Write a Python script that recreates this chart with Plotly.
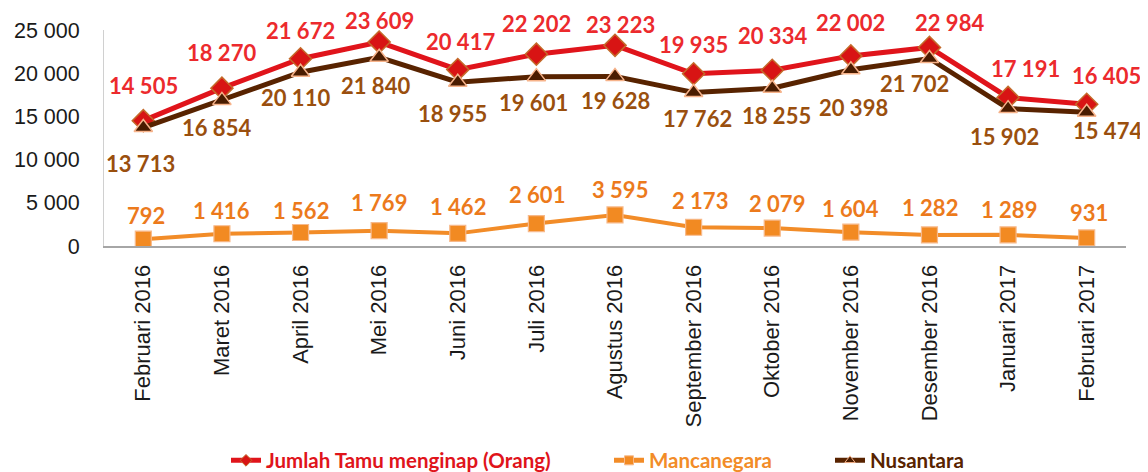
import plotly.graph_objects as go

months = ["Februari 2016", "Maret 2016", "April 2016", "Mei 2016", "Juni 2016", "Juli 2016",
          "Agustus 2016", "September 2016", "Oktober 2016", "November 2016", "Desember 2016",
          "Januari 2017", "Februari 2017"]
jumlah = [14505, 18270, 21672, 23609, 20417, 22202, 23223, 19935, 20334, 22002, 22984, 17191, 16405]
mancanegara = [792, 1416, 1562, 1769, 1462, 2601, 3595, 2173, 2079, 1604, 1282, 1289, 931]
nusantara = [13713, 16854, 20110, 21840, 18955, 19601, 19628, 17762, 18255, 20398, 21702, 15902, 15474]
series_names = ["Jumlah Tamu menginap (Orang)", "Mancanegara", "Nusantara"]

# label offsets in pixels (style only)
red_dy = [35, 36, 28, 22, 28, 31, 21, 29, 35, 33, 25, 29, 29]
red_dx = [0, 0, 0, 0, 3, 0, 5, 0, 0, 0, 20, 17, 20]
brn_dy = [-36, -27, -25, -28, -31, -26, -24, -26, -27, -38, -25, -28, -18]
brn_dx = [-3, -5, -5, -4, -5, -3, 0, 4, 4, 3, -15, -4, 21]
org_dy = [24, 23, 22, 28, 27, 29, 25, 27, 25, 24, 27, 25, 25]
org_dx = [3, 0, 0, 0, 0, 1, 5, 6, 5, 0, 1, 1, 2]

RED, RED_T = "#e0141b", "#ec2a2d"
ORG, ORG_T = "#f28c28", "#ec7a1c"
BRN, BRN_T = "#582300", "#9a4f0e"
TICKFONT = "'Liberation Sans', Arial, sans-serif"

# page body margin compensation (figure is drawn 8px from the page corner)
PAGE = 8
W, H = 1148, 472
PL, PR, PT, PB = 104, 1126, 29.5, 246.5          # plot area in page pixels
ML, MR, MT, MB = PL - PAGE, W - (PR - PAGE), PT - PAGE, H - (PB - PAGE)
PW, PH = PR - PL, PB - PT

styles = [
    dict(vals=jumlah, color=RED, tcol=RED_T, lw=5, sym="diamond", size=17, fill="#d81414",
         edge="#c46a2a", ew=1.5, dys=red_dy, dxs=red_dx, lgw=338),
    dict(vals=mancanegara, color=ORG, tcol=ORG_T, lw=4, sym="square", size=16, fill="#f28a22",
         edge="#f7b98a", ew=1.2, dys=org_dy, dxs=org_dx, lgw=176),
    dict(vals=nusantara, color=BRN, tcol=BRN_T, lw=5, sym="triangle-up", size=16, fill="#4a1c00",
         edge="#f7b38a", ew=1.5, dys=brn_dy, dxs=brn_dx, lgw=120),
]

fig = go.Figure()
for name, s in zip(series_names, styles):
    fig.add_trace(go.Scatter(
        x=months, y=s["vals"], mode="lines+markers", name=name, showlegend=False,
        line=dict(color=s["color"], width=s["lw"]),
        marker=dict(symbol=s["sym"], size=s["size"], color=s["fill"],
                    line=dict(color=s["edge"], width=s["ew"])),
    ))
# legend entries (small symbols, as in the reference legend)
for name, s in zip(series_names, styles):
    fig.add_trace(go.Scatter(
        x=[None], y=[None], mode="lines+markers",
        name=f"<span style='color:{s['color']}'><b>{name}</b></span>",
        line=dict(color=s["color"], width=5),
        marker=dict(symbol=s["sym"], size=9, color=s["fill"], line=dict(color=s["edge"], width=1)),
        legendwidth=s["lgw"],
    ))

def fmt(v):
    return f"{v:,}".replace(",", " ")

annots = []
for s in [styles[0], styles[2], styles[1]]:
    for m, v, dy, dx in zip(months, s["vals"], s["dys"], s["dxs"]):
        annots.append(dict(x=m, y=v, xref="x", yref="y", text=f"<b>{fmt(v)}</b>",
                           showarrow=False, xshift=dx, yshift=dy,
                           xanchor="center", yanchor="middle",
                           font=dict(family="Lato, 'Open Sans', sans-serif", size=22, color=s["tcol"])))

fig.update_layout(
    width=W, height=H,
    margin=dict(l=ML, r=MR, t=MT, b=MB, autoexpand=False),
    paper_bgcolor="white", plot_bgcolor="white",
    separators=", ",
    annotations=annots,
    showlegend=True,
    legend=dict(orientation="h", x=(266 - 40 - PL) / PW, xanchor="left", yref="paper",
                y=(PB - 462) / PH, yanchor="middle", font=dict(family="Lato, sans-serif", size=20.5),
                bgcolor="rgba(0,0,0,0)", tracegroupgap=0),
    xaxis=dict(type="category", range=[-0.5, len(months) - 0.5], autorange=False,
               showgrid=False, showline=True, linecolor="#a6a6a6", linewidth=2,
               ticks="", tickangle=-90, ticklabelstandoff=8, automargin=False,
               tickfont=dict(family=TICKFONT, size=22, color="#1a1a1a")),
    yaxis=dict(range=[0, 25000], autorange=False,
               tickvals=[0, 5000, 10000, 15000, 20000, 25000], tickformat=",d",
               showgrid=False, showline=True, linecolor="#d0d0d0", linewidth=1, ticks="",
               zeroline=False, ticklabelstandoff=19, automargin=False,
               tickfont=dict(family=TICKFONT, size=21.5, color="#1a1a1a")),
)

fig.write_html("out.html")
